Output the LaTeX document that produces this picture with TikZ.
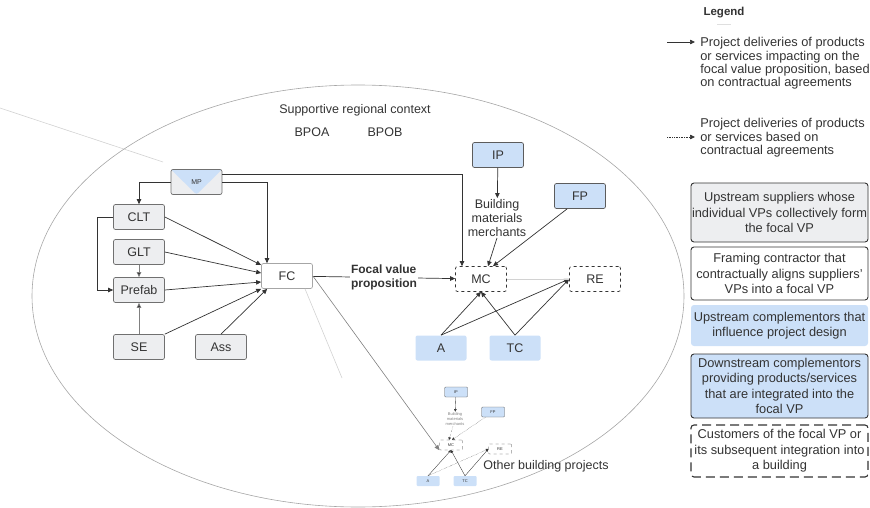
\documentclass[tikz,border=0pt]{standalone}
\usepackage{fontspec}
\setmainfont{Liberation Sans}
\usetikzlibrary{positioning, arrows.meta, calc}

\definecolor{boxgray}{HTML}{EDEEF0}
\definecolor{boxblue}{HTML}{CCE0F8}
\definecolor{linedark}{HTML}{333333}
\definecolor{bordergray}{HTML}{707070}

\begin{document}
\begin{tikzpicture}[x=1pt, y=-1pt, on grid, font=\fontsize{12.5}{14}\selectfont,
    >={Triangle[length=5pt,width=4.5pt]},
    color=linedark, line width=0.7pt,
    supplier/.style={draw=bordergray, fill=boxgray, rounded corners=2pt, minimum width=51pt, minimum height=25pt, inner sep=0pt},
    framer/.style={supplier, draw=gray!70, fill=white},
    customer/.style={supplier, draw=linedark, fill=white, dashed},
    upcomp/.style={supplier, draw=none, fill=boxblue},
    downcomp/.style={supplier, draw=linedark!80, fill=boxblue},
    tiny/.style={minimum width=23pt, minimum height=10pt, line width=0.35pt, rounded corners=1pt, font=\fontsize{4}{5}\selectfont},
    faint/.style={draw=gray!35, line width=0.6pt},
    legbox/.style={draw=linedark, rounded corners=3pt, minimum width=177pt, inner sep=1pt, align=center, line width=0.9pt, font=\fontsize{12.8}{15.5}\selectfont},
    legtext/.style={align=left, inner sep=0pt, font=\fontsize{12.8}{13.4}\selectfont}]
\useasboundingbox (0,0) rectangle (870,508);

% regional context
\draw[draw=gray!70, line width=0.6pt] (358,296) ellipse [x radius=326pt, y radius=211pt];
\draw[faint] (0,108) -- (163,162);
\node (context) at (355,110) {Supportive regional context};
\node (bpoa) at (312,132) {BPOA};
\node[right=73pt of bpoa] (bpob) {BPOB};

% suppliers and framing contractor
\node[supplier, font=\fontsize{7}{8}\selectfont,
      path picture={\fill[boxblue] (path picture bounding box.north west) -- (path picture bounding box.north east) -- (path picture bounding box.south) -- cycle;}]
      (mp) at (196.5,182) {MP};
\node[supplier] (clt) at (139,217) {CLT};
\node[supplier, below=35pt of clt] (glt) {GLT};
\node[supplier, below=38pt of glt] (prefab) {Prefab};
\node[supplier, below=57pt of prefab] (se) {SE};
\node[supplier, right=82pt of se] (ass) {Ass};
\node[framer] (fc) at (287,276) {FC};

% the project
\node[customer] (mc) at (481,279) {MC};
\node[customer, right=114pt of mc] (re) {RE};
\node[downcomp] (ip) at (498,155) {IP};
\node[align=center, inner sep=1pt] (merch) at (497,218) {Building\\materials\\merchants};
\node[downcomp] (fp) at (580,196) {FP};
\node[upcomp] (a) at (441,348) {A};
\node[upcomp, right=74pt of a] (tc) {TC};

\path[draw,->] (mp.west) -| (clt.north);
\path[draw,->] (mp.east) -| ([xshift=-20pt]fc.north);
\path[draw,->] ([yshift=-5pt]mp.north east) -| ([xshift=-19pt]mc.north);
\path[draw,->] (clt.west) -- ++(-16,0) |- (prefab.west);
\path[->, draw=gray]
        (glt) edge (prefab)
        (se) edge (prefab);
\path[->]
        (clt.east) edge ([yshift=11pt]fc.west)
        (glt.east) edge ([yshift=3pt]fc.west)
        (prefab.east) edge ([yshift=-6pt]fc.west)
        (se.north east) edge (fc.south west)
        (ass.north) edge ([xshift=6pt]fc.south west);
\draw[->] (fc) -- node[fill=white, inner sep=1pt, align=left, font=\bfseries\fontsize{12}{14}\selectfont] (fvp) {Focal value\\proposition} (mc);
\path[->]
        (ip) edge (merch)
        (merch.south) edge ([xshift=7pt]mc.north)
        ([xshift=13pt]fp.south west) edge ([xshift=12pt]mc.north)
        (a.north) edge (mc.south)
        (a.north) edge (re.west)
        (tc.north) edge (mc.south)
        (tc.north) edge (re.west);
\draw[faint] (mc) -- (re);

% other building projects
\node[downcomp, tiny] (sip) at (456,392) {IP};
\node[align=center, inner sep=0.5pt, font=\fontsize{4}{5}\selectfont, text=gray] (smerch) at (455,419) {Building\\materials\\merchants};
\node[downcomp, tiny] (sfp) at (493,412) {FP};
\node[customer, tiny] (smc) at (451,445) {MC};
\node[customer, tiny] (sre) at (500,449) {RE};
\node[upcomp, tiny] (sa) at (428,481) {A};
\node[upcomp, tiny] (stc) at (465,481) {TC};
\node (other) at (546,466) {Other building projects};
\begin{scope}[>={Triangle[length=2.5pt,width=2.5pt]}, line width=0.35pt]
\draw[->] (sip) -- (smerch);
\path[->, densely dotted]
        (smerch) edge ([xshift=-2pt]smc.north)
        (sfp) edge ([xshift=1pt]smc.north)
        (sa.north) edge (sre.west);
\path[->]
        (sa.north) edge (smc.south)
        (stc.north) edge (smc.south)
        (stc.north) edge (sre.west);
\end{scope}
\draw[->, draw=gray, line width=0.6pt] (fc.east) -- (smc.south west);
\draw[faint] ([xshift=18pt]fc.south) -- (342,378);

% legend
\node[font=\bfseries\fontsize{11.5}{13}\selectfont] (legend) at (724,13) {Legend};
\draw[draw=gray!25, line width=0.5pt] ([shift={(-7pt,-11pt)}]legend.center) -- ++(14,0);
\coordinate (solidfrom) at (667,42);
\coordinate (solidto) at (695,42);
\coordinate (dotfrom) at (667,137);
\coordinate (dotto) at (695,137);
\draw[->] (solidfrom) -- (solidto);
\draw[->, densely dotted] (dotfrom) -- (dotto);
\node[legtext, anchor=north west] (soliddesc) at (700,37) {Project deliveries of products\\or services impacting on the\\focal value proposition, based\\on contractual agreements};
\node[legtext, anchor=north west] (dotdesc) at (700,118) {Project deliveries of products\\or services based on\\contractual agreements};

\node[legbox, fill=boxgray, minimum height=59pt] (keysup) at (779.5,212.5) {Upstream suppliers whose\\individual VPs collectively form\\the focal VP};
\node[legbox, fill=white, minimum height=53pt] (keyfc) at (779.5,273.5) {Framing contractor that\\contractually aligns suppliers'\\VPs into a focal VP};
\node[legbox, fill=boxblue, draw=none, minimum height=41pt] (keyup) at (779.5,325.5) {Upstream complementors that\\influence project design};
\node[legbox, fill=boxblue, minimum height=64pt] (keydown) at (779.5,386) {Downstream complementors\\providing products/services\\that are integrated into the\\focal VP};
\node[legbox, fill=white, line width=1.1pt, dash pattern=on 9pt off 5pt, minimum height=52pt] (keycust) at (779.5,451) {Customers of the focal VP or\\its subsequent integration into\\a building};
\end{tikzpicture}
\end{document}
